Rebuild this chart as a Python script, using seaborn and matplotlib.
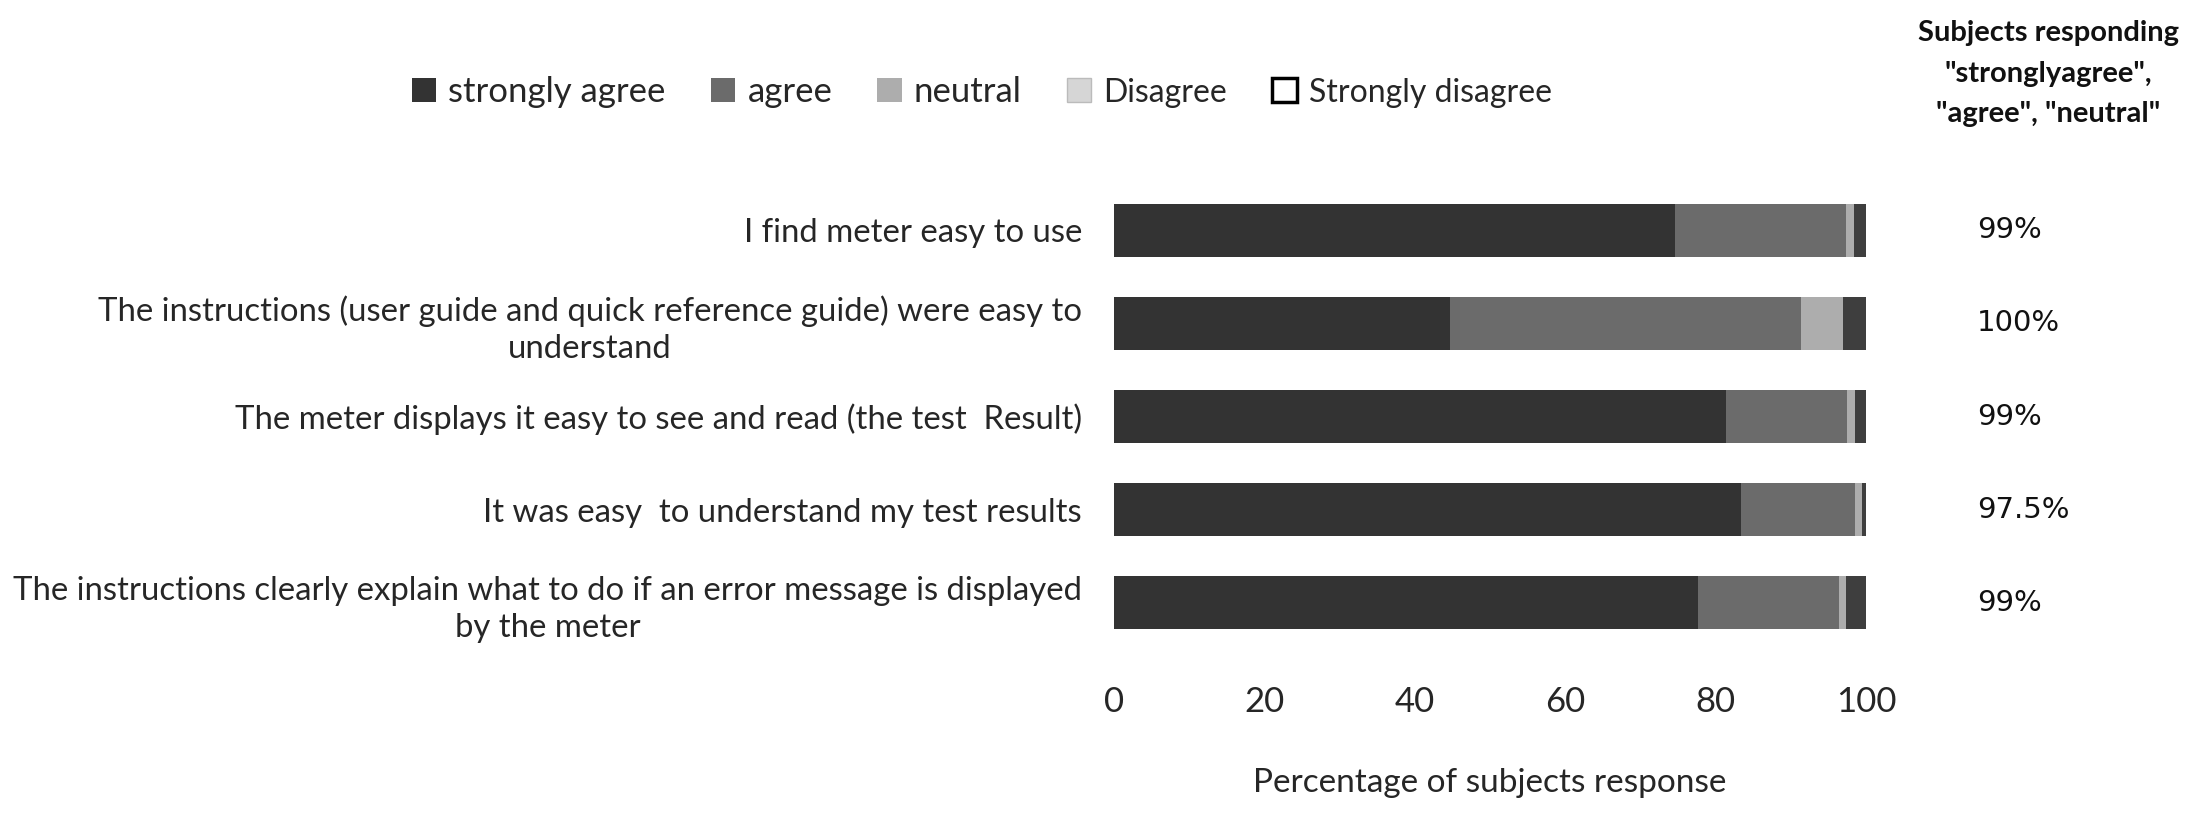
import numpy as np
import pandas as pd
import matplotlib
matplotlib.use("Agg")
import matplotlib.pyplot as plt
import matplotlib.transforms as mtransforms
from matplotlib.patches import Patch
import seaborn as sns

# --- data ---
statements = [
    "I find meter easy to use",
    "The instructions (user guide and quick reference guide) were easy to\nunderstand",
    "The meter displays it easy to see and read (the test  Result)",
    "It was easy  to understand my test results",
    "The instructions clearly explain what to do if an error message is displayed\nby the meter",
]
strongly_agree = [74.6, 44.7, 81.4, 83.4, 77.6]
agree = [22.8, 46.7, 16.1, 15.1, 18.8]
neutral = [1.0, 5.6, 1.0, 1.0, 1.0]
disagree = [1.6, 3.0, 1.5, 0.5, 2.6]
favourable = ["99%", "100%", "99%", "97.5%", "99%"]

sns.set_theme(style="white")
plt.rcParams["font.family"] = ["Lato", "DejaVu Sans"]

df = pd.DataFrame({
    "statement": statements,
    "strongly agree": strongly_agree,
    "agree": agree,
    "neutral": neutral,
    "Disagree": disagree,
})
parts = ["strongly agree", "agree", "neutral", "Disagree"]
colors = ["#333333", "#6b6b6b", "#adadad", "#3e3e3e"]
cum = df[parts].cumsum(axis=1)

fig = plt.figure(figsize=(22.12, 8.22), dpi=100)
ax = fig.add_axes([1114 / 2212, 1 - 649.5 / 822, 752 / 2212, 466 / 822])

# stacked bars: draw cumulative totals from the outside in
for part, col in zip(parts[::-1], colors[::-1]):
    sns.barplot(x=cum[part], y=df["statement"], orient="h", color=col,
                width=0.57, ax=ax, saturation=1, edgecolor="none")

ax.set_xlim(0, 100)
ax.set_xticks([0, 20, 40, 60, 80, 100])
ax.tick_params(axis="x", length=0, pad=26, labelsize=25)
ax.tick_params(axis="y", length=0, pad=23, labelsize=23.7)
for lab in ax.get_yticklabels():
    lab.set_multialignment("center")
    lab.set_linespacing(1.3)
for s in ax.spines.values():
    s.set_visible(False)
ax.set_ylabel("")
ax.set_xlabel("Percentage of subjects response", fontsize=24, labelpad=36)

# percentages of agree + neutral responses at the right
trans = mtransforms.blended_transform_factory(fig.transFigure, ax.transData)
for i, txt in enumerate(favourable):
    ax.text(1977 / 2212, i, txt, transform=trans, ha="left", va="center",
            fontsize=21, family="DejaVu Sans", color="#111111")

fig.text(2048 / 2212, 1 - 20 / 822,
         'Subjects responding\n"stronglyagree",\n"agree", "neutral"',
         ha="center", va="top", fontsize=21, fontweight="bold",
         linespacing=1.7, color="#111111")

handles = [
    Patch(facecolor="#333333", edgecolor="none"),
    Patch(facecolor="#6b6b6b", edgecolor="none"),
    Patch(facecolor="#adadad", edgecolor="none"),
    Patch(facecolor="#d6d6d6", edgecolor="#bbbbbb"),
    Patch(facecolor="white", edgecolor="black", linewidth=2.5),
]
leg = fig.legend(handles, ["strongly agree", "agree", "neutral", "Disagree", "Strongly disagree"],
                 loc="center left", bbox_to_anchor=(412 / 2212, 1 - 92 / 822),
                 ncol=5, frameon=False, fontsize=25, handlelength=0.7, handleheight=0.7,
                 handletextpad=0.35, columnspacing=1.3, borderpad=0, borderaxespad=0)
for t in leg.get_texts()[3:]:
    t.set_fontsize(23)

fig.savefig("out.png", dpi=100, facecolor="white")
